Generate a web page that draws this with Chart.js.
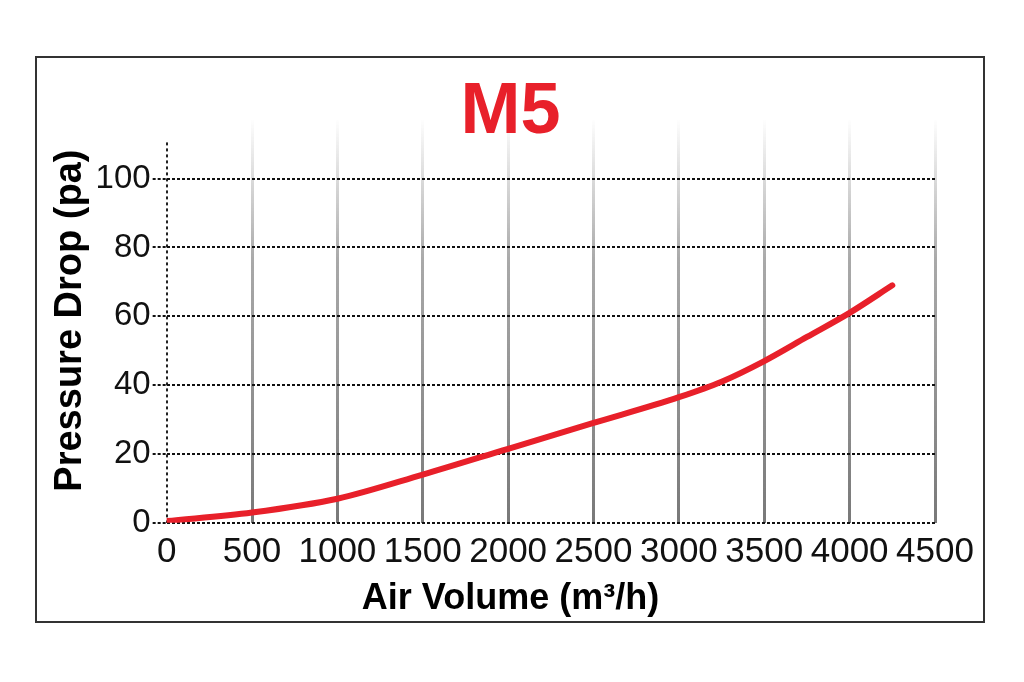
<!DOCTYPE html>
<html>
<head>
<meta charset="utf-8">
<script src="https://cdn.jsdelivr.net/npm/chart.js@4/dist/chart.umd.min.js"></script>
<style>
  html, body { margin: 0; padding: 0; background: #fff; }
  #frame {
    position: absolute; left: 35px; top: 56px;
    width: 950px; height: 567px;
    box-sizing: border-box; border: 2px solid #333;
  }
  #frame canvas { display: block; }
</style>
</head>
<body>
<div id="frame"><canvas id="myChart"></canvas></div>
<script>
// chart data
const airVolume = [0, 500, 1000, 1500, 2000, 2500, 3000, 3250, 3500, 3750, 4000, 4250];
const pressureDrop = [0.5, 3, 7, 14, 21.5, 29, 36.5, 41, 47, 54, 61, 69];
const xTicks = [0, 500, 1000, 1500, 2000, 2500, 3000, 3500, 4000, 4500];
const yTicks = [0, 20, 40, 60, 80, 100];

Chart.defaults.font.family = "'Liberation Sans', Arial, sans-serif";
Chart.defaults.color = '#111';

// vertical gray lines fade out toward the top
function xGridColor(ctx) {
  const chart = ctx.chart;
  const area = chart.chartArea;
  if (!area) return '#888';
  const g = chart.ctx.createLinearGradient(0, area.top, 0, area.bottom);
  if (ctx.index === 0) {
    // the y axis line is dotted black and starts a bit lower
    const start = (chart.scales.y.getPixelForValue(111) - area.top) / (area.bottom - area.top);
    g.addColorStop(0, 'rgba(0,0,0,0)');
    g.addColorStop(start, 'rgba(0,0,0,0)');
    g.addColorStop(Math.min(start + 0.001, 1), '#222');
    g.addColorStop(1, '#222');
    return g;
  }
  g.addColorStop(0, 'rgba(140,140,140,0)');
  g.addColorStop(0.35, 'rgba(140,140,140,0.75)');
  g.addColorStop(1, 'rgba(120,120,120,1)');
  return g;
}

let ctx = document.getElementById('myChart').getContext('2d');
let myChart = new Chart(ctx, {
  type: 'line',
  data: {
    datasets: [{
      data: airVolume.map((x, i) => ({ x: x, y: pressureDrop[i] })),
      borderColor: '#e8202a',
      borderWidth: 6,
      borderCapStyle: 'round',
      pointRadius: 0,
      cubicInterpolationMode: 'monotone',
      fill: false
    }]
  },
  options: {
    responsive: true,
    maintainAspectRatio: false,
    animation: false,
    layout: { padding: { left: 11, right: 10, top: 0, bottom: 0 } },
    plugins: {
      legend: { display: false },
      tooltip: { enabled: false },
      title: {
        display: true,
        text: 'M5',
        color: '#e8202a',
        font: { size: 72, weight: 'bold' },
        padding: { top: 12, bottom: -38 }
      },
      subtitle: {
        display: true,
        position: 'bottom',
        text: 'Air Volume (m³/h)',
        color: '#000',
        font: { size: 36, weight: 'bold' },
        padding: { top: -5, bottom: 0 }
      }
    },
    scales: {
      x: {
        type: 'linear',
        min: 0,
        max: 4500,
        afterBuildTicks: (scale) => { scale.ticks = xTicks.map(v => ({ value: v })); },
        ticks: { font: { size: 35 }, padding: 9, maxRotation: 0, autoSkip: false, callback: (v) => String(v) },
        grid: {
          drawTicks: false,
          lineWidth: (c) => c.index === 0 ? 2 : 3,
          color: xGridColor
        },
        border: {
          display: false,
          dash: (c) => c.index === 0 ? [3, 3] : []
        }
      },
      y: {
        min: 0,
        max: 117.5,
        afterBuildTicks: (scale) => { scale.ticks = yTicks.map(v => ({ value: v })); },
        ticks: { font: { size: 33 }, padding: 2, callback: (v) => String(v) },
        title: {
          display: true,
          text: 'Pressure Drop (pa)',
          color: '#000',
          font: { size: 38, weight: 'bold' },
          padding: { top: 0, bottom: 0 }
        },
        grid: {
          color: '#111',
          lineWidth: 2,
          tickLength: 14,
          tickBorderDash: [3, 2],
          tickColor: '#111'
        },
        border: { display: false, dash: [3, 2] }
      },
      // empty right side gutter so the titles stay centred on the frame
      yRight: {
        axis: 'y',
        position: 'right',
        grid: { display: false },
        ticks: { display: false },
        border: { display: false },
        afterFit: (scale) => { scale.width = 38; }
      }
    }
  }
});
</script>
</body>
</html>
